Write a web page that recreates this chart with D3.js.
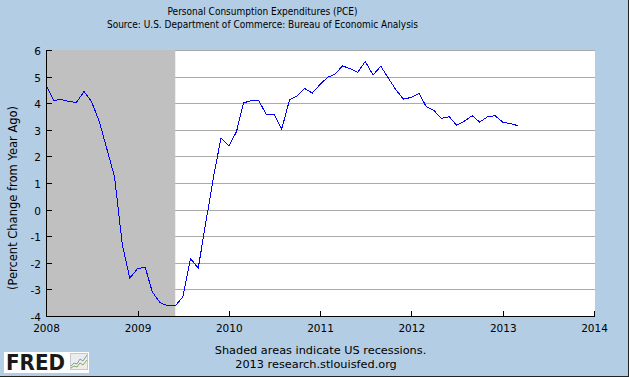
<!DOCTYPE html>
<html>
<head>
<meta charset="utf-8">
<script src="https://cdn.jsdelivr.net/npm/d3@7"></script>
<style>
    html, body { margin: 0; padding: 0; background: #b3cde4; }
    svg { display: block; }
    text { font-family: "DejaVu Sans", Verdana, sans-serif; fill: #000; }
</style>
</head>
<body>
<div id="chart"></div>
<script>
// Monthly PCE, percent change from year ago
const months = [
    '2008-01', '2008-02', '2008-03', '2008-04', '2008-05', '2008-06', '2008-07', '2008-08', '2008-09', '2008-10', '2008-11', '2008-12',
    '2009-01', '2009-02', '2009-03', '2009-04', '2009-05', '2009-06', '2009-07', '2009-08', '2009-09', '2009-10', '2009-11', '2009-12',
    '2010-01', '2010-02', '2010-03', '2010-04', '2010-05', '2010-06', '2010-07', '2010-08', '2010-09', '2010-10', '2010-11', '2010-12',
    '2011-01', '2011-02', '2011-03', '2011-04', '2011-05', '2011-06', '2011-07', '2011-08', '2011-09', '2011-10', '2011-11', '2011-12',
    '2012-01', '2012-02', '2012-03', '2012-04', '2012-05', '2012-06', '2012-07', '2012-08', '2012-09', '2012-10', '2012-11', '2012-12',
    '2013-01', '2013-02', '2013-03'
];
const pceValues = [
    4.68, 4.10, 4.14, 4.07, 4.02, 4.44, 4.06, 3.32, 2.26, 1.24, -1.30, -2.58,
    -2.22, -2.17, -3.09, -3.50, -3.61, -3.62, -3.29, -1.84, -2.20, -0.50, 1.22, 2.70,
    2.39, 2.93, 4.01, 4.10, 4.10, 3.56, 3.59, 3.03, 4.12, 4.27, 4.55, 4.38,
    4.70, 4.98, 5.08, 5.40, 5.30, 5.16, 5.57, 5.06, 5.39, 4.95, 4.50, 4.15,
    4.22, 4.37, 3.87, 3.72, 3.43, 3.49, 3.17, 3.33, 3.53, 3.29, 3.49, 3.53,
    3.29, 3.23, 3.16
];
const recessions = [['2007-12-01', '2009-06-01']];
const yearTicks = [2008, 2009, 2010, 2011, 2012, 2013, 2014];
const valueTicks = [-4, -3, -2, -1, 0, 1, 2, 3, 4, 5, 6];

const titleLines = [
    'Personal Consumption Expenditures (PCE)',
    'Source: U.S. Department of Commerce: Bureau of Economic Analysis'
];
const yLabel = '(Percent Change from Year Ago)';
const footLines = ['Shaded areas indicate US recessions.', '2013 research.stlouisfed.org'];

// Configuration
const config = {
    width: 629,
    height: 377,
    plot: { left: 46, right: 594, top: 50, bottom: 316 },
    bg: '#b3cde4',
    shade: '#c0c0c0',
    grid: '#aaaaaa',
    lineColor: '#0000ff'
};

const parseMonth = d3.timeParse('%Y-%m');
const parseDay = d3.timeParse('%Y-%m-%d');
const data = months.map((m, i) => ({ date: parseMonth(m), value: pceValues[i] }));

const svg = d3.select('#chart')
    .append('svg')
    .attr('width', config.width)
    .attr('height', config.height);

svg.append('rect')
    .attr('width', config.width)
    .attr('height', config.height)
    .attr('fill', config.bg);

const p = config.plot;
const x = d3.scaleTime()
    .domain([new Date(2008, 0, 1), new Date(2014, 0, 1)])
    .range([p.left, p.right]);
const y = d3.scaleLinear()
    .domain([-4, 6])
    .range([p.bottom, p.top]);

const px = v => Math.round(v) + 0.5;

// Plot background
svg.append('rect')
    .attr('x', p.left)
    .attr('y', p.top)
    .attr('width', p.right - p.left + 1)
    .attr('height', p.bottom - p.top)
    .attr('fill', '#fff');

// Grid lines
svg.append('g')
    .selectAll('line')
    .data(valueTicks.filter(v => v > -4))
    .join('line')
    .attr('x1', p.left)
    .attr('x2', p.right + 1)
    .attr('y1', d => px(y(d)))
    .attr('y2', d => px(y(d)))
    .attr('stroke', config.grid)
    .attr('stroke-width', 1);

// Recession shading (covers the grid)
svg.append('g')
    .selectAll('rect')
    .data(recessions)
    .join('rect')
    .attr('x', d => Math.max(p.left, x(parseDay(d[0]))))
    .attr('y', p.top)
    .attr('width', d => x(parseDay(d[1])) - Math.max(p.left, x(parseDay(d[0]))))
    .attr('height', p.bottom - p.top)
    .attr('fill', config.shade);

// Series line
const line = d3.line()
    .x(d => x(d.date))
    .y(d => y(d.value));

svg.append('path')
    .datum(data)
    .attr('fill', 'none')
    .attr('stroke', config.lineColor)
    .attr('stroke-width', 1)
    .attr('shape-rendering', 'crispEdges')
    .attr('d', line);

// Axes: lines + inward ticks
const axes = svg.append('g').attr('stroke', '#000').attr('stroke-width', 1);
axes.append('line')
    .attr('x1', px(p.left)).attr('x2', px(p.left))
    .attr('y1', p.top).attr('y2', p.bottom + 1);
axes.append('line')
    .attr('x1', p.left).attr('x2', p.right + 1)
    .attr('y1', px(p.bottom)).attr('y2', px(p.bottom));

axes.selectAll('.ytick')
    .data(valueTicks)
    .join('line')
    .attr('class', 'ytick')
    .attr('x1', p.left).attr('x2', p.left + 6)
    .attr('y1', d => px(y(d))).attr('y2', d => px(y(d)));

axes.selectAll('.xtick')
    .data(yearTicks)
    .join('line')
    .attr('class', 'xtick')
    .attr('x1', d => px(x(new Date(d, 0, 1)))).attr('x2', d => px(x(new Date(d, 0, 1))))
    .attr('y1', p.bottom - 5).attr('y2', p.bottom + 1);

// Tick labels
svg.append('g')
    .selectAll('text')
    .data(valueTicks)
    .join('text')
    .attr('x', 41)
    .attr('y', d => Math.round(y(d)) + 5)
    .attr('text-anchor', 'end')
    .style('font-size', '10.5px')
    .text(d => d);

svg.append('g')
    .selectAll('text')
    .data(yearTicks)
    .join('text')
    .attr('x', d => x(new Date(d, 0, 1)) + 0.5)
    .attr('y', 332)
    .attr('text-anchor', 'middle')
    .style('font-size', '10.5px')
    .text(d => d);

// Axis title
svg.append('text')
    .attr('transform', 'translate(17,198) rotate(-90)')
    .attr('text-anchor', 'middle')
    .style('font-size', '11.5px')
    .text(yLabel);

// Chart title
svg.append('g')
    .selectAll('text')
    .data(titleLines)
    .join('text')
    .attr('x', 262.5)
    .attr('y', (d, i) => 14.5 + i * 13.8)
    .attr('text-anchor', 'middle')
    .style('font-size', '10px')
    .style('font-family', '"DejaVu Sans Condensed", "DejaVu Sans", sans-serif')
    .style('font-stretch', 'condensed')
    .text(d => d);

// Footer
svg.append('g')
    .selectAll('text')
    .data(footLines)
    .join('text')
    .attr('x', (d, i) => i === 0 ? 320.5 : 316)
    .attr('y', (d, i) => 354 + i * 13.7)
    .attr('text-anchor', 'middle')
    .style('font-size', '11.3px')
    .text(d => d);

// FRED logo
const logo = svg.append('g');
logo.append('rect')
    .attr('x', 4).attr('y', 352)
    .attr('width', 85).attr('height', 21)
    .attr('fill', '#fff');
logo.append('text')
    .attr('x', 6).attr('y', 370)
    .attr('textLength', 59)
    .attr('lengthAdjust', 'spacingAndGlyphs')
    .style('font-size', '22px')
    .style('font-weight', 'bold')
    .style('fill', '#1a1a1a')
    .text('FRED');
logo.append('rect')
    .attr('x', 70.5).attr('y', 353.5)
    .attr('width', 17).attr('height', 16)
    .attr('fill', '#ececec')
    .attr('stroke', '#c8c8c8');
const iconBlue = [[71, 366], [74, 363], [77, 364], [80, 359], [83, 361], [87, 355]];
const iconGreen = [[71, 368], [74, 366], [77, 367], [80, 363], [83, 365], [87, 360]];
logo.append('path').attr('d', d3.line()(iconBlue)).attr('fill', 'none').attr('stroke', '#7a9cc6');
logo.append('path').attr('d', d3.line()(iconGreen)).attr('fill', 'none').attr('stroke', '#8fae52');

// Frame edges (right and bottom)
svg.append('line')
    .attr('x1', config.width - 0.5).attr('x2', config.width - 0.5)
    .attr('y1', 0).attr('y2', config.height)
    .attr('stroke', '#222');
svg.append('line')
    .attr('x1', 0).attr('x2', config.width)
    .attr('y1', config.height - 0.5).attr('y2', config.height - 0.5)
    .attr('stroke', '#222');
</script>
</body>
</html>
